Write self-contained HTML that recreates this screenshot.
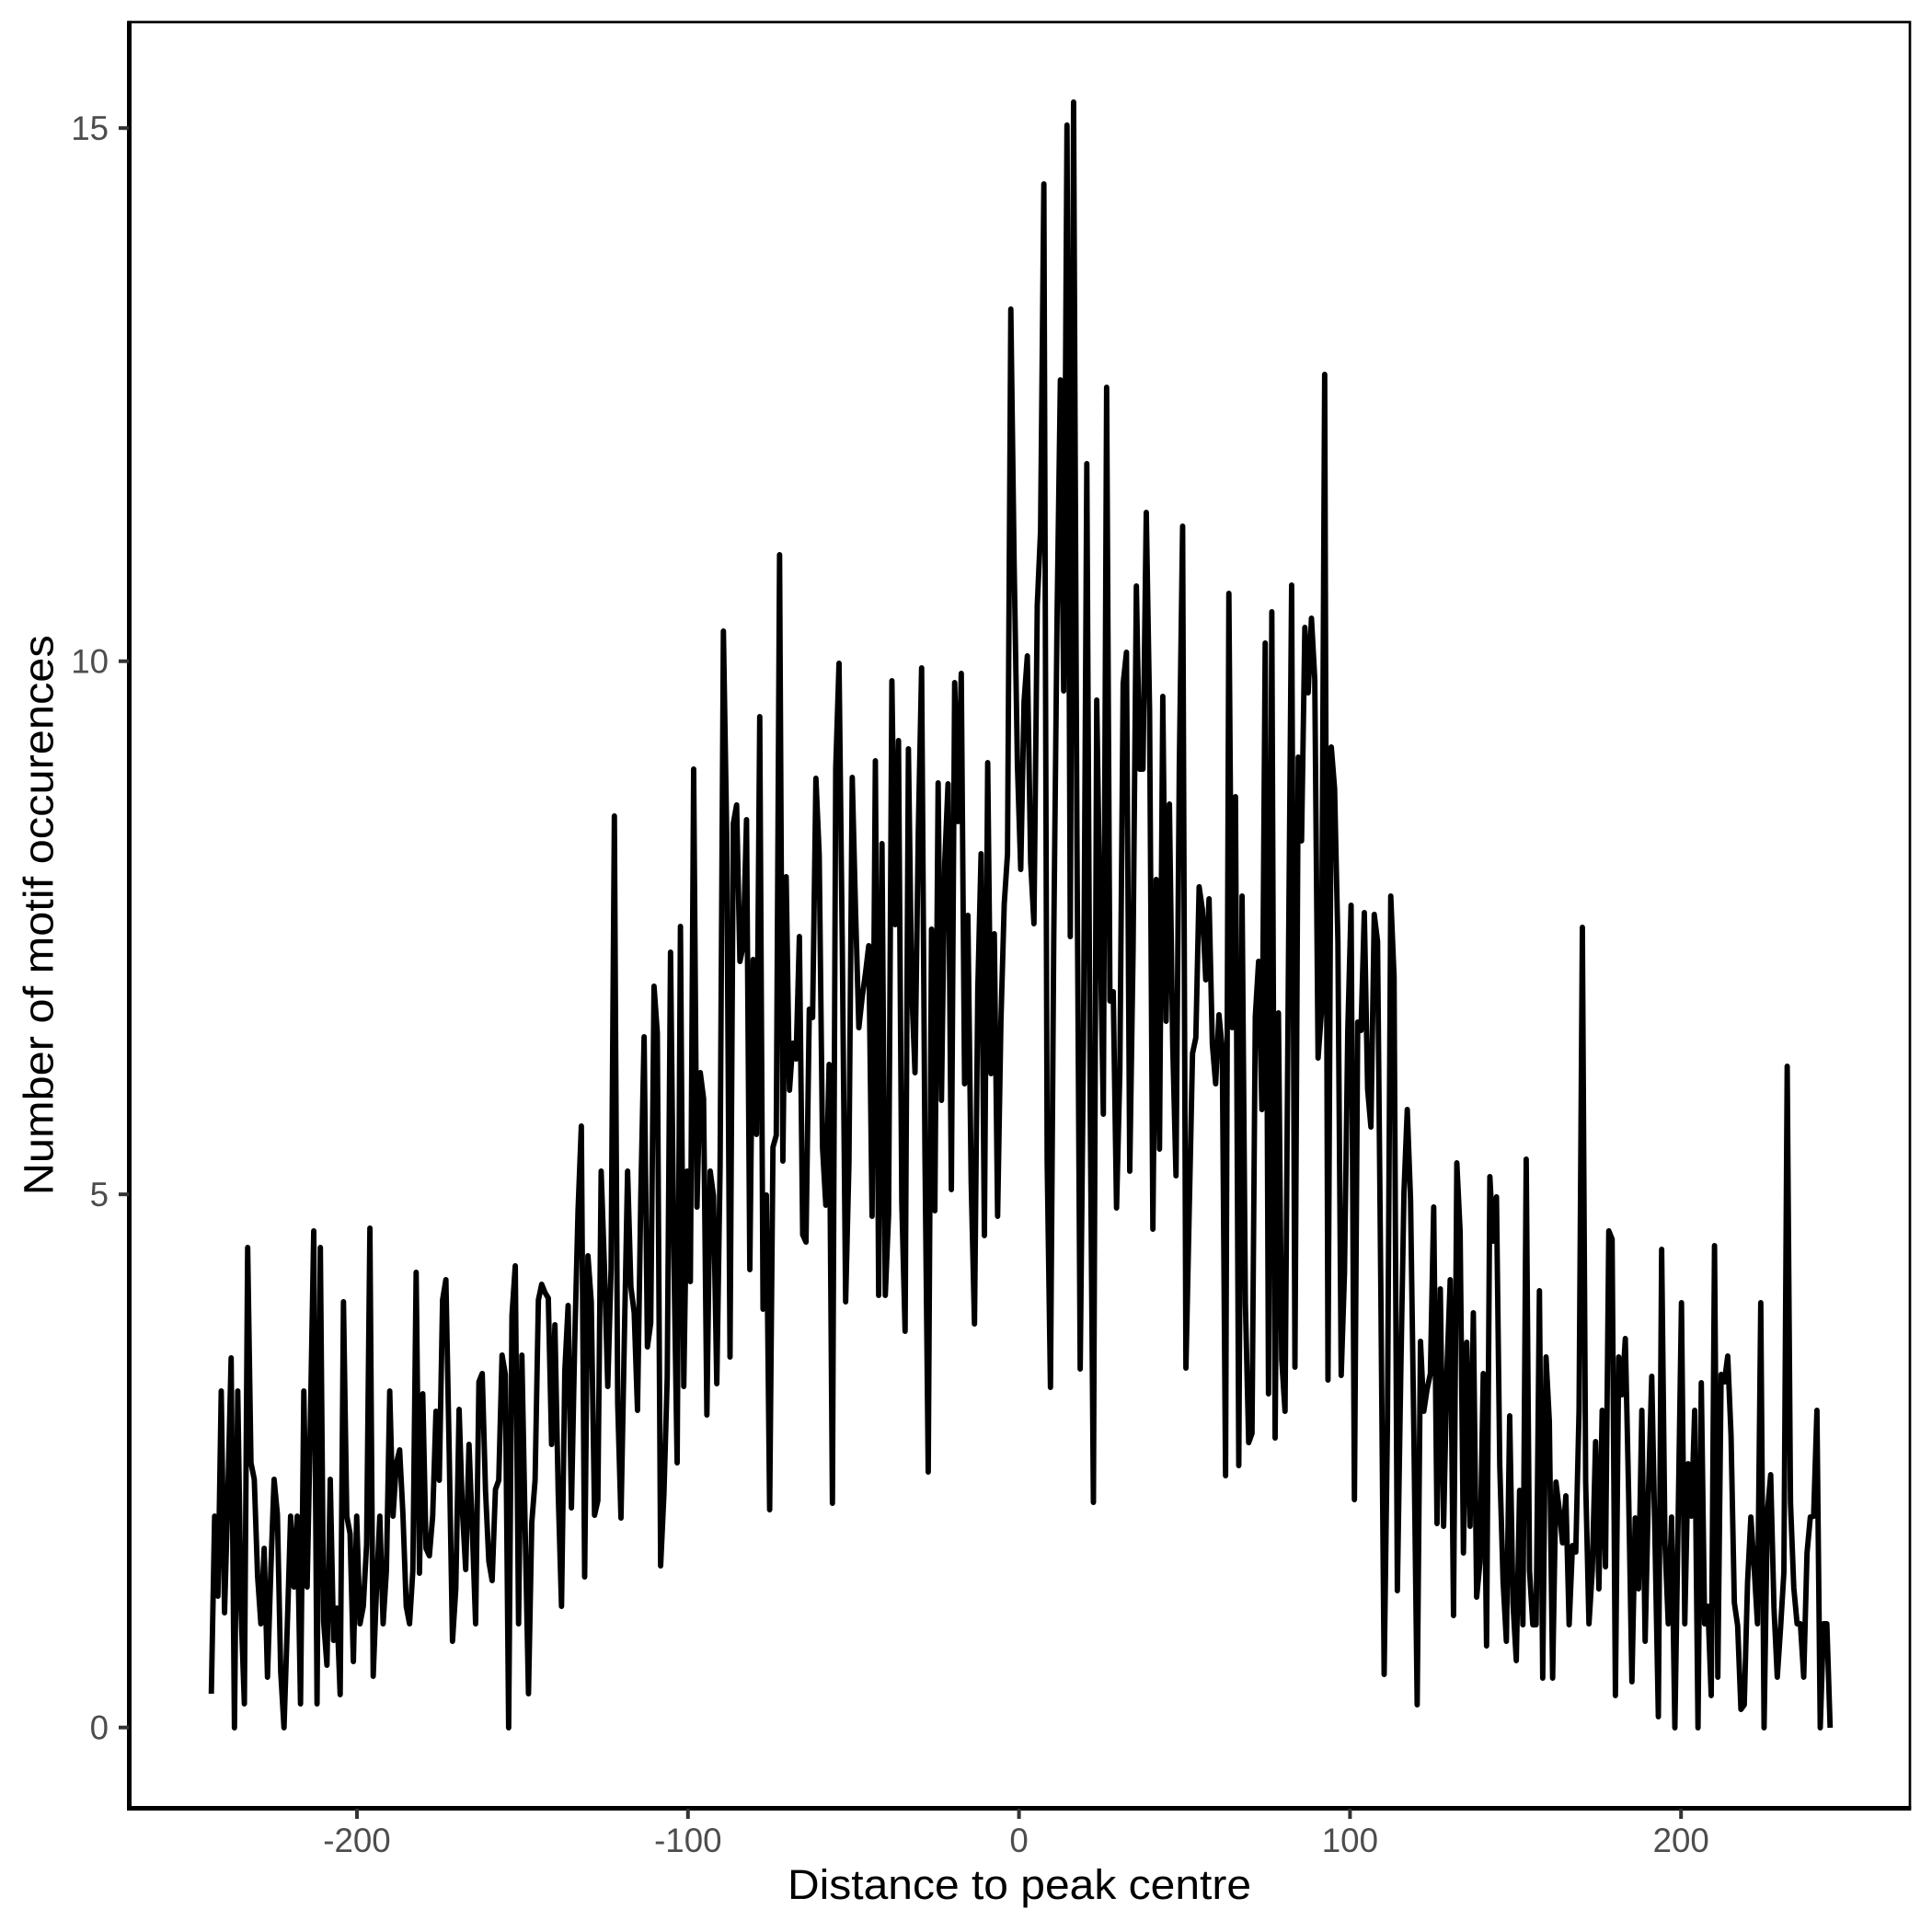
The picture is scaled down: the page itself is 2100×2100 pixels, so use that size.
<!DOCTYPE html>
<html>
<head>
<meta charset="utf-8">
<style>
html,body{margin:0;padding:0;background:#ffffff;}
svg{display:block;}
</style>
</head>
<body>
<svg xmlns="http://www.w3.org/2000/svg" width="2100" height="2100" viewBox="0 0 2100 2100">
<rect x="0" y="0" width="2100" height="2100" fill="#ffffff"/>
<!-- panel border -->
<rect x="140.5" y="24" width="1935.5" height="1941.5" fill="none" stroke="#000" stroke-width="2.7"/>
<!-- axis lines -->
<line x1="140.5" y1="22.7" x2="140.5" y2="1968" stroke="#000" stroke-width="5"/>
<line x1="138" y1="1965.5" x2="2077.3" y2="1965.5" stroke="#000" stroke-width="5"/>
<!-- y ticks -->
<g stroke="#333333" stroke-width="4">
<line x1="129" y1="1877.7" x2="140" y2="1877.7"/>
<line x1="129" y1="1298.2" x2="140" y2="1298.2"/>
<line x1="129" y1="718.7" x2="140" y2="718.7"/>
<line x1="129" y1="139.2" x2="140" y2="139.2"/>
</g>
<!-- x ticks -->
<g stroke="#333333" stroke-width="4">
<line x1="388" y1="1966" x2="388" y2="1977"/>
<line x1="747.8" y1="1966" x2="747.8" y2="1977"/>
<line x1="1107.6" y1="1966" x2="1107.6" y2="1977"/>
<line x1="1467.4" y1="1966" x2="1467.4" y2="1977"/>
<line x1="1827.2" y1="1966" x2="1827.2" y2="1977"/>
</g>
<!-- tick labels -->
<g font-family="'Liberation Sans', sans-serif" font-size="36.7" fill="#4D4D4D">
<text x="118" y="1890.7" text-anchor="end">0</text>
<text x="118" y="1311.2" text-anchor="end">5</text>
<text x="118" y="731.7" text-anchor="end">10</text>
<text x="118" y="152.2" text-anchor="end">15</text>
<text x="388" y="2013" text-anchor="middle">-200</text>
<text x="747.8" y="2013" text-anchor="middle">-100</text>
<text x="1107.6" y="2013" text-anchor="middle">0</text>
<text x="1467.4" y="2013" text-anchor="middle">100</text>
<text x="1827.2" y="2013" text-anchor="middle">200</text>
</g>
<!-- axis titles -->
<g font-family="'Liberation Sans', sans-serif" font-size="45.8" fill="#000">
<text x="1108" y="2064" text-anchor="middle" textLength="504" lengthAdjust="spacingAndGlyphs">Distance to peak centre</text>
<text transform="translate(57.5 994.75) rotate(-90)" x="0" y="0" text-anchor="middle" textLength="609" lengthAdjust="spacingAndGlyphs">Number of motif occurences</text>
</g>
<!-- data line -->
<g transform="translate(229.7 0) scale(3.591 1)">
<polyline fill="none" stroke="#000" stroke-width="5.9" stroke-linejoin="round" stroke-linecap="butt" vector-effect="non-scaling-stroke" points="0,1841 1,1648 2,1735 3,1512 4,1753 5,1625 6,1476 7,1878 8,1512 9,1750 10,1852 11,1356 12,1590 13,1608 14,1713 15,1765 16,1683 17,1823 18,1708 19,1608 20,1646 21,1817 22,1878 23,1767 24,1648 25,1725 26,1648 27,1852 28,1512 29,1725 30,1542 31,1338 32,1852 33,1356 34,1763 35,1810 36,1608 37,1783 38,1748 39,1842 40,1415 41,1648 42,1667 43,1806 44,1648 45,1765 46,1746 47,1679 48,1335 49,1822 50,1727 51,1648 52,1765 53,1707 54,1512 55,1648 56,1591 57,1576 58,1646 59,1746 60,1765 61,1707 62,1383 63,1710 64,1515 65,1683 66,1691 67,1648 68,1534 69,1609 70,1413 71,1391 72,1578 73,1784 74,1727 75,1532 76,1642 77,1706 78,1570 79,1663 80,1765 81,1502 82,1493 83,1621 84,1697 85,1718 86,1619 87,1609 88,1473 89,1494 90,1878 91,1430 92,1376 93,1765 94,1473 95,1663 96,1841 97,1655 98,1609 99,1413 100,1396 101,1405 102,1411 103,1570 104,1440 105,1623 106,1746 107,1490 108,1419 109,1639 110,1458 111,1316 112,1224 113,1714 114,1365 115,1415 116,1647 117,1631 118,1273 119,1379 120,1507 121,1379 122,887 123,1525 124,1650 125,1458 126,1273 127,1399 128,1427 129,1533 130,1300 131,1127 132,1464 133,1438 134,1072 135,1123 136,1702 137,1624 138,1497 139,1035 140,1363 141,1590 142,1007 143,1507 144,1273 145,1393 146,836 147,1312 148,1166 149,1194 150,1538 151,1273 152,1300 153,1504 154,1269 155,686 156,906 157,1475 158,895 159,875 160,1045 161,1028 162,891 163,1380 164,1043 165,1233 166,779 167,1423 168,1299 169,1641 170,1247 171,1234 172,603 173,1262 174,953 175,1185 176,1134 177,1151 178,1018 179,1342 180,1350 181,1097 182,1106 183,846 184,929 185,1247 186,1310 187,1157 188,1634 189,835 190,721 191,1033 192,1415 193,1264 194,845 195,990 196,1117 197,1084 198,1058 199,1028 200,1322 201,827 202,1408 203,917 204,1408 205,1320 206,740 207,1005 208,805 209,1307 210,1447 211,814 212,1075 213,1166 214,903 215,726 216,1250 217,1600 218,1010 219,1316 220,851 221,1196 222,937 223,852 224,1293 225,742 226,893 227,732 228,1178 229,995 230,1285 231,1439 232,1076 233,928 234,1343 235,829 236,1167 237,1015 238,1322 239,1111 240,983 241,928 242,336 243,612 244,832 245,945 246,763 247,713 248,937 249,1004 250,658 251,577 252,200 253,1262 254,1508 255,1018 256,670 257,413 258,751 259,136 260,1018 261,111 262,902 263,1488 264,1134 265,504 266,1192 267,1633 268,761 269,1000 270,1211 271,421 272,1088 273,1078 274,1313 275,1165 276,743 277,709 278,1273 279,1035 280,637 281,836 282,836 283,557 284,773 285,1336 286,956 287,1249 288,757 289,1110 290,874 291,1135 292,1278 293,833 294,572 295,1487 296,1316 297,1145 298,1128 299,964 300,989 301,1065 302,977 303,1135 304,1178 305,1103 306,1140 307,1604 308,645 309,1117 310,866 311,1593 312,974 313,1417 314,1568 315,1558 316,1105 317,1045 318,1206 319,699 320,1515 321,665 322,1563 323,1101 324,1478 325,1534 326,1062 327,636 328,1486 329,823 330,914 331,682 332,753 333,672 334,738 335,1150 336,1101 337,407 338,1500 339,812 340,857 341,1023 342,1495 343,1383 344,1120 345,984 346,1630 347,1111 348,1120 349,992 350,1184 351,1225 352,994 353,1023 354,1403 355,1820 356,1549 357,974 358,1062 359,1729 360,1500 361,1296 362,1206 363,1305 364,1559 365,1853 366,1458 367,1534 368,1510 369,1493 370,1312 371,1656 372,1401 373,1659 374,1490 375,1391 376,1756 377,1264 378,1339 379,1688 380,1459 381,1659 382,1427 383,1736 384,1698 385,1493 386,1789 387,1279 388,1349 389,1301 390,1593 391,1719 392,1784 393,1539 394,1743 395,1805 396,1620 397,1766 398,1260 399,1707 400,1766 401,1766 402,1403 403,1824 404,1475 405,1545 406,1824 407,1611 408,1641 409,1677 410,1626 411,1766 412,1680 413,1687 414,1533 415,1008 416,1611 417,1765 418,1707 419,1567 420,1727 421,1533 422,1703 423,1338 424,1347 425,1843 426,1475 427,1516 428,1455 429,1623 430,1828 431,1650 432,1727 433,1533 434,1784 435,1623 436,1496 437,1677 438,1866 439,1358 440,1677 441,1765 442,1649 443,1878 444,1649 445,1416 446,1765 447,1591 448,1648 449,1533 450,1878 451,1503 452,1765 453,1746 454,1843 455,1354 456,1823 457,1494 458,1502 459,1474 460,1560 461,1742 462,1767 463,1858 464,1853 465,1720 466,1649 467,1704 468,1765 469,1416 470,1878 471,1644 472,1603 473,1748 474,1823 475,1769 476,1709 477,1159 478,1633 479,1726 480,1765 481,1765 482,1823 483,1688 484,1649 485,1648 486,1533 487,1878 488,1765 489,1765 490,1878"/>
</g>
</svg>
</body>
</html>
